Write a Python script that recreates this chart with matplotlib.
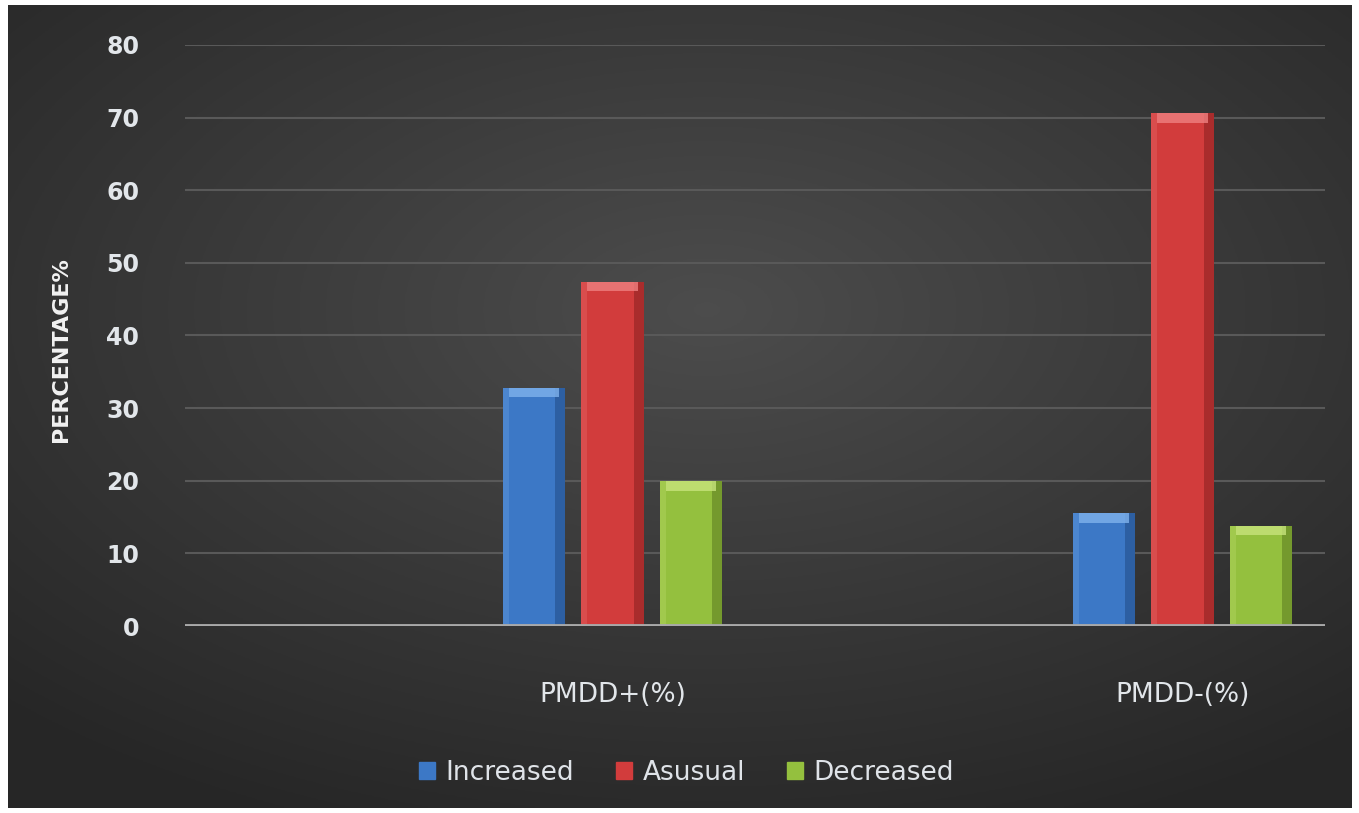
import numpy as np
import matplotlib
matplotlib.use("Agg")
import matplotlib.pyplot as plt
from matplotlib.patches import Patch

# data
categories = ["", "PMDD+(%)", "", "PMDD-(%)"]
series = ["Increased", "Asusual", "Decreased"]
increased = [0, 32.8, 0, 15.5]
asusual = [0, 47.4, 0, 70.6]
decreased = [0, 19.9, 0, 13.8]
yticks = [0, 10, 20, 30, 40, 50, 60, 70, 80]

colors = ["#3c78c6", "#d23c3c", "#94c03e"]
tops = ["#7fb2ec", "#ee8080", "#c8e47c"]
edges = ["#244f8a", "#8e2222", "#5f7f22"]

W, H = 1359, 813
fig = plt.figure(figsize=(W / 100, H / 100), dpi=100, facecolor="white")

# dark radial background panel
bg = fig.add_axes([8 / W, 5 / H, (1352 - 8) / W, (808 - 5) / H])
gx, gy = np.meshgrid(np.linspace(0, 1, 400), np.linspace(0, 1, 300))
r = np.sqrt(((gx - 0.52) / 0.75) ** 2 + ((gy - 0.38) / 0.7) ** 2)
shade = np.clip(0.30 - 0.15 * r, 0.15, 0.30)
bg.imshow(np.dstack([shade, shade, shade]), aspect="auto", extent=[0, 1, 1, 0])
bg.set_axis_off()

ax = fig.add_axes([185 / W, 1 - 626 / H, (1325 - 185) / W, (626 - 45) / H])
ax.patch.set_alpha(0)

x = np.arange(len(categories))
bw = 0.22
step = 0.275
for i, (name, vals) in enumerate(zip(series, [increased, asusual, decreased])):
    pos = x + (i - 1) * step
    vals = np.array(vals)
    ax.bar(pos, vals, bw, color=colors[i], zorder=3)
    # bevel: darker right edge and lighter top cap
    ax.bar(pos + bw * 0.42, vals, bw * 0.16, color=edges[i], alpha=0.6, zorder=4)
    ax.bar(pos - bw * 0.45, vals, bw * 0.1, color=tops[i], alpha=0.25, zorder=4)
    cap = np.where(vals > 0, 1.3, 0)
    ax.bar(pos, cap, bw * 0.8, bottom=vals - cap, color=tops[i], alpha=0.8, zorder=5)

ax.set_xlim(-0.5, len(categories) - 0.5)
ax.set_ylim(0, 80)
ax.set_yticks(yticks)
ax.set_xticks(x)
ax.set_xticklabels(categories)
ax.grid(axis="y", color="#595959", lw=1.5, zorder=0)
ax.axhline(0, color="#a9a9a9", lw=3.5, zorder=6)
for s in ax.spines.values():
    s.set_visible(False)
ax.tick_params(length=0, colors="#e2e6ea")
ax.tick_params(axis="y", pad=33, labelsize=17)
ax.tick_params(axis="x", pad=40, labelsize=19)
for t in ax.get_yticklabels():
    t.set_fontweight("semibold")
ax.set_ylabel("PERCENTAGE%", color="#f2f2f2", fontsize=16, fontweight="bold")
ax.yaxis.set_label_coords(-0.1, 0.475)

handles = [Patch(color=c) for c in colors]
leg = fig.legend(handles, series, loc="center", bbox_to_anchor=(0.505, 1 - 773 / H),
                 ncol=3, frameon=False, fontsize=19, handlelength=0.6,
                 handleheight=0.6, handletextpad=0.4, columnspacing=1.6)
for t in leg.get_texts():
    t.set_color("#dfe3e8")

fig.savefig("out.png", dpi=100, facecolor="white")
